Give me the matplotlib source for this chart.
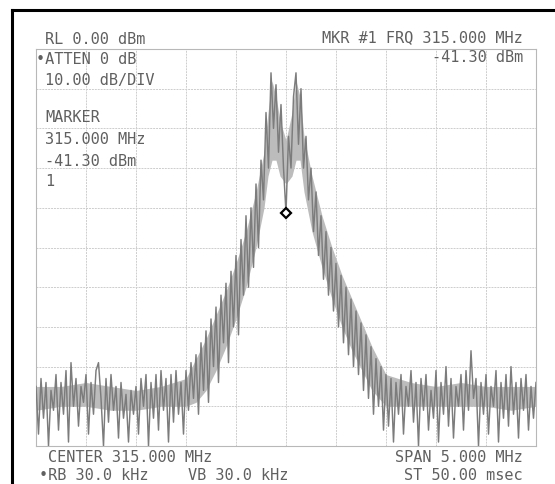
import matplotlib
matplotlib.use("Agg")
import matplotlib.pyplot as plt
from matplotlib.lines import Line2D
import numpy as np

W, H = 555, 484

# ---- data ----
f_start, f_stop = 312.5, 317.5          # MHz (center 315.000, span 5.000)
ref_level, bottom_level = 0.0, -100.0    # dBm
trace_step = 0.025                       # MHz between trace points

trace_db = [
    -85, -97, -83, -93, -84, -100, -86, -91, -82, -96,
    -84, -92, -81, -99, -79, -90, -83, -95, -85, -89,
    -82, -97, -84, -92, -81, -79, -88, -100, -83, -94,
    -82, -91, -85, -98, -84, -93, -87, -99, -86, -92,
    -85, -97, -83, -90, -82, -100, -84, -93, -82, -96,
    -81, -91, -83, -99, -82, -94, -81, -92, -84, -97,
    -81, -91, -79, -88, -77, -92, -74, -86, -71, -89,
    -68, -80, -65, -84, -62, -74, -59, -79, -56, -70,
    -52, -72, -48, -62, -42, -60, -40, -55, -34, -50,
    -28, -38, -16, -30, -6, -20, -9, -26, -14, -30,
    -41.3, -22, -30, -12, -6, -24, -10, -30, -22, -38,
    -30, -46, -36, -52, -42, -58, -46, -62, -50, -66,
    -54, -70, -57, -74, -60, -77, -63, -80, -66, -82,
    -69, -86, -72, -88, -75, -92, -78, -90, -80, -96,
    -82, -95, -83, -99, -84, -92, -82, -97, -85, -90,
    -81, -94, -84, -100, -83, -91, -82, -96, -86, -93,
    -81, -99, -84, -92, -80, -95, -83, -98, -85, -90,
    -82, -96, -81, -91, -76, -88, -83, -100, -84, -92,
    -82, -97, -85, -90, -81, -99, -84, -93, -82, -95,
    -80, -92, -84, -98, -83, -91, -82, -96, -85, -93,
    -84,
]

core_freq = [312.5, 312.75, 313.0, 313.25, 313.5, 313.75, 314.0, 314.1, 314.2,
             314.3, 314.4, 314.5, 314.6, 314.7, 314.78, 314.82, 314.86, 314.9,
             314.94, 315.0, 315.06, 315.1, 315.14, 315.18, 315.26, 315.36,
             315.46, 315.56, 315.66, 315.76, 315.86, 316.0, 316.25, 316.5,
             316.75, 317.0, 317.25, 317.5]
core_top = [-85, -85, -84, -85, -86, -85, -83, -78, -73,
            -67, -61, -54, -46, -36, -26, -16, -8, -12,
            -18, -23, -16, -8, -12, -22, -32, -42,
            -50, -57, -63, -69, -75, -82, -84, -85,
            -84, -85, -85, -85]
core_bot = [-91, -90, -90, -91, -91, -90, -90, -89, -86,
            -81, -75, -68, -60, -50, -40, -32, -28, -28,
            -32, -34, -32, -28, -28, -36, -46, -55,
            -63, -70, -76, -81, -86, -90, -90, -90,
            -90, -90, -91, -90]

marker_freq, marker_db = 315.000, -41.30

left_texts = ["RL 0.00 dBm", "\u2022ATTEN 0 dB", "10.00 dB/DIV",
              "MARKER", "315.000 MHz", "-41.30 dBm", "1"]
right_top_texts = ["MKR #1 FRQ 315.000 MHz", "-41.30 dBm"]
bottom_left_texts = ["CENTER 315.000 MHz", "\u2022RB 30.0 kHz"]
bottom_mid_text = "VB 30.0 kHz"
bottom_right_texts = ["SPAN 5.000 MHz", "ST 50.00 msec"]

# ---- figure ----
fig = plt.figure(figsize=(W / 100, H / 100), dpi=100)
fig.patch.set_facecolor("white")

gx0, gx1, gy0, gy1 = 36, 536, 49, 446
ax = fig.add_axes([gx0 / W, 1 - gy1 / H, (gx1 - gx0) / W, (gy1 - gy0) / H])
ax.set_xlim(f_start, f_stop)
ax.set_ylim(bottom_level, ref_level)
ax.set_xticks(np.linspace(f_start, f_stop, 11))
ax.set_yticks(np.linspace(bottom_level, ref_level, 11))
ax.tick_params(length=0, labelbottom=False, labelleft=False)
ax.grid(True, color="#cdcdcd", lw=0.7, ls=(0, (2, 1)))
for s in ax.spines.values():
    s.set_color("#b8b8b8")
    s.set_linewidth(0.8)
ax.set_axisbelow(True)

tf = f_start + trace_step * np.arange(len(trace_db))
ax.fill_between(core_freq, core_bot, core_top, color="#bcbcbc", lw=0, zorder=2)
ax.plot(tf, trace_db, color="#7c7c7c", lw=1.05, zorder=3)
ax.plot([marker_freq], [marker_db], marker="D", ms=5, mfc="white",
        mec="black", mew=1.6, zorder=5)

# ---- texts ----
fkw = dict(family="DejaVu Sans Mono", fontsize=11, color="#606060")


def put(x, y, s, ha="left"):
    fig.text(x / W, 1 - y / H, s, ha=ha, va="center", **fkw)


left_pos = [(45, 40), (36, 60), (45, 80), (45, 118), (45, 140), (45, 162), (45, 182)]
for (x, y), s in zip(left_pos, left_texts):
    put(x, y, s)
put(523, 38, right_top_texts[0], ha="right")
put(523, 58, right_top_texts[1], ha="right")
put(48, 457, bottom_left_texts[0])
put(39, 476, bottom_left_texts[1])
put(188, 476, bottom_mid_text)
put(523, 457, bottom_right_texts[0], ha="right")
put(523, 476, bottom_right_texts[1], ha="right")

# ---- outer black frame (cropped on right and bottom) ----
fig.add_artist(Line2D([12 / W, 12 / W], [0, 1 - 10 / H], color="black", lw=2.2))
fig.add_artist(Line2D([12 / W, 1], [1 - 10 / H, 1 - 10 / H], color="black", lw=2.2))

fig.savefig("out.png", dpi=100, facecolor="white")
